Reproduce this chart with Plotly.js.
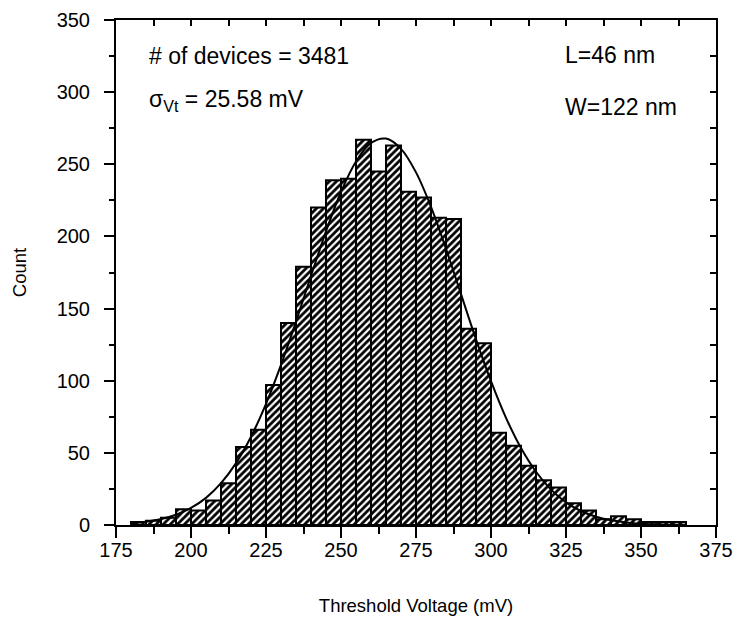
<!DOCTYPE html>
<html>
<head>
<meta charset="utf-8">
<script src="https://cdn.plot.ly/plotly-3.0.1.min.js"></script>
<style>html,body{margin:0;padding:0;background:#fff;}#chart{width:738px;height:618px;}</style>
</head>
<body>
<div id="chart"></div>
<script>
// Histogram bins (centre of each 5 mV bin, mV) and counts
var binCenters = [182.5,187.5,192.5,197.5,202.5,207.5,212.5,217.5,222.5,227.5,232.5,237.5,242.5,247.5,252.5,257.5,262.5,267.5,272.5,277.5,282.5,287.5,292.5,297.5,302.5,307.5,312.5,317.5,322.5,327.5,332.5,337.5,342.5,347.5,352.5,357.5,362.5];
var counts = [2,3,5,11,10,17,29,54,66,97,140,179,220,239,240,267,245,263,231,227,213,212,136,126,64,55,41,31,26,15,10,4,6,4,2,2,2];
// Fitted curve
var fitX = [180,185,190,195,200,205,210,215,220,225,230,235,240,245,250,255,260,265,270,275,280,285,290,295,300,305,310,315,320,325,330,335,340,345,350,355,360,365];
var fitY = [1.2,2.3,4.1,7.1,11.8,18.8,29,42.9,61.2,84,111,141,172.7,203.5,230.8,251.9,264.8,267.8,260.7,244.4,220.5,191.4,160,128.7,99.7,74.3,53.3,36.9,24.5,15.7,9.7,5.7,3.3,1.8,0.95,0.5,0.24,0.1];
// Axis ticks
var xTicks = [175,200,225,250,275,300,325,350,375];
var yTicks = [0,50,100,150,200,250,300,350];
var binWidth = 5;

var FONT = 'Liberation Sans, Arial, sans-serif';

var traces = [
  {
    type: 'bar', x: binCenters, y: counts, width: binWidth,
    marker: {
      color: 'white',
      line: {color: 'black', width: 2},
      pattern: {shape: '/', fgcolor: 'black', bgcolor: 'white', size: 5, solidity: 0.55}
    },
    showlegend: false, hoverinfo: 'x+y'
  },
  {
    type: 'scatter', mode: 'lines', x: fitX, y: fitY,
    line: {color: 'black', width: 2, shape: 'spline'},
    showlegend: false
  },
  {
    type: 'scatter', mode: 'markers', x: [null], y: [null], xaxis: 'x2', yaxis: 'y2',
    showlegend: false, hoverinfo: 'skip'
  }
];

var layout = {
  width: 738, height: 618,
  margin: {l: 116, r: 22, t: 20, b: 93},
  paper_bgcolor: 'white', plot_bgcolor: 'white',
  font: {family: FONT, size: 18, color: 'black'},
  bargap: 0,
  xaxis: {
    range: [175, 375], tickmode: 'array', tickvals: xTicks, ticktext: xTicks.map(String),
    ticks: 'outside', ticklen: 11, tickwidth: 2, tickcolor: 'black', ticklabelstandoff: -5,
    minor: {dtick: 12.5, tick0: 175, ticks: 'outside', ticklen: 7, tickwidth: 2, tickcolor: 'black', showgrid: false},
    showline: true, linewidth: 2, linecolor: 'black', showgrid: false, zeroline: false,
    tickfont: {family: FONT, size: 20},
    title: {text: 'Threshold Voltage (mV)', font: {family: FONT, size: 18.5}, standoff: 39},
    automargin: false
  },
  yaxis: {
    range: [0, 350], tickmode: 'array', tickvals: yTicks, ticktext: yTicks.map(String),
    ticks: 'outside', ticklen: 10, tickwidth: 2, tickcolor: 'black', ticklabelstandoff: 10,
    minor: {dtick: 25, tick0: 0, ticks: 'outside', ticklen: 5, tickwidth: 2, tickcolor: 'black', showgrid: false},
    showline: true, linewidth: 2, linecolor: 'black', showgrid: false, zeroline: false,
    tickfont: {family: FONT, size: 20},
    title: {text: 'Count', font: {family: FONT, size: 18.5}, standoff: 25},
    automargin: false
  },
  xaxis2: {
    overlaying: 'x', side: 'top', range: [175, 375], tickmode: 'linear', tick0: 175, dtick: 12.5,
    ticks: 'inside', ticklen: 6, tickwidth: 2, tickcolor: 'black', showticklabels: false,
    showline: true, linewidth: 2, linecolor: 'black', showgrid: false, zeroline: false
  },
  yaxis2: {
    overlaying: 'y', side: 'right', range: [0, 350], tickmode: 'linear', tick0: 0, dtick: 25,
    ticks: 'inside', ticklen: 6, tickwidth: 2, tickcolor: 'black', showticklabels: false,
    showline: true, linewidth: 2, linecolor: 'black', showgrid: false, zeroline: false
  },
  annotations: [
    {x: 185.3, y: 325, xref: 'x', yref: 'y', xanchor: 'left', yanchor: 'middle', showarrow: false,
     text: '# of devices = 3481', font: {family: FONT, size: 23}},
    {x: 185.3, y: 294, xref: 'x', yref: 'y', xanchor: 'left', yanchor: 'middle', showarrow: false,
     text: 'σ<sub>Vt</sub> = 25.58 mV', font: {family: FONT, size: 23}},
    {x: 324, y: 326, xref: 'x', yref: 'y', xanchor: 'left', yanchor: 'middle', showarrow: false,
     text: 'L=46 nm', font: {family: FONT, size: 23}},
    {x: 324, y: 290, xref: 'x', yref: 'y', xanchor: 'left', yanchor: 'middle', showarrow: false,
     text: 'W=122 nm', font: {family: FONT, size: 23}}
  ]
};

Plotly.newPlot('chart', traces, layout, {displayModeBar: false, staticPlot: true});
</script>
</body>
</html>
